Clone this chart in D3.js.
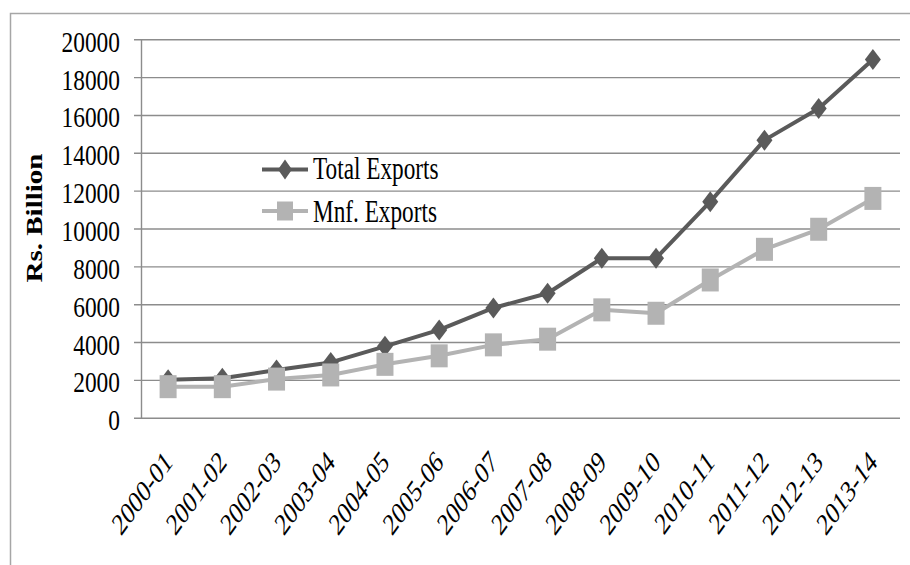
<!DOCTYPE html>
<html>
<head>
<meta charset="utf-8">
<script src="https://cdn.jsdelivr.net/npm/d3@7/dist/d3.min.js"></script>
<style>
  html, body { margin: 0; padding: 0; background: #ffffff; }
  svg { display: block; }
  text { font-family: "Liberation Serif", "Times New Roman", serif; fill: #000; }
</style>
</head>
<body>
<svg id="chart" width="910" height="565"></svg>
<script>
// Financial years on the category axis
const years = ["2000-01", "2001-02", "2002-03", "2003-04", "2004-05", "2005-06", "2006-07",
               "2007-08", "2008-09", "2009-10", "2010-11", "2011-12", "2012-13", "2013-14"];
// Exports, Rs. Billion
const totalExports = [2000, 2080, 2520, 2920, 3770, 4640, 5800, 6580, 8430, 8430, 11420, 14670, 16340, 18930];
const mnfExports   = [1640, 1640, 2040, 2260, 2820, 3270, 3850, 4150, 5700, 5520, 7280, 8900, 9960, 11590];
// Value axis ticks
const yTicks = [0, 2000, 4000, 6000, 8000, 10000, 12000, 14000, 16000, 18000, 20000];

const seriesNames = ["Total Exports", "Mnf. Exports"];

const svg = d3.select("#chart");

// plot area bounds
const plotLeft = 141, plotRight = 900, plotTop = 39.3, plotBottom = 417.7;
const gridColor = "#8c8c8c";
const darkColor = "#5a5a5a";
const lightColor = "#b3b3b3";

// outer chart frame (right and bottom edges fall outside the view)
svg.append("rect")
  .attr("x", 10.5).attr("y", 13.5)
  .attr("width", 920).attr("height", 570)
  .attr("fill", "none").attr("stroke", "#a6a6a6").attr("stroke-width", 1.5);

const x = d3.scalePoint().domain(years).range([plotLeft, plotRight]).padding(0.5);
const y = d3.scaleLinear().domain([0, 20000]).range([plotBottom, plotTop]);

// horizontal gridlines (with short outer tick marks)
const grid = svg.append("g")
  .attr("transform", `translate(${plotRight},0)`)
  .call(d3.axisLeft(y).tickValues(yTicks).tickSize(plotRight - plotLeft + 7).tickFormat(""));
grid.select(".domain").remove();
grid.selectAll(".tick line").attr("stroke", gridColor).attr("stroke-width", 1.4);

// value axis
const yAxis = svg.append("g")
  .attr("transform", `translate(${plotLeft},0)`)
  .call(d3.axisLeft(y).tickValues(yTicks).tickSize(0).tickFormat(d3.format("d")));
yAxis.select(".domain").attr("stroke", gridColor).attr("stroke-width", 1.4);
yAxis.selectAll(".tick text")
  .attr("x", null).attr("dy", null)
  .attr("text-anchor", "end")
  .attr("font-size", 30)
  .attr("transform", "translate(-21,12) scale(0.78,1)");

// category axis labels, slanted
const xAxis = svg.append("g")
  .attr("transform", `translate(0,${plotBottom})`)
  .call(d3.axisBottom(x).tickSize(0));
xAxis.select(".domain").remove();
xAxis.selectAll(".tick text")
  .attr("y", null).attr("dy", null)
  .attr("text-anchor", "end")
  .attr("font-size", 31)
  .attr("transform", "translate(5,46) scale(0.72,1) rotate(-45)");

// y-axis title
svg.append("text")
  .attr("transform", "translate(42,218) scale(0.8,1) rotate(-90)")
  .attr("text-anchor", "middle")
  .attr("font-size", 29)
  .attr("font-weight", "bold")
  .text("Rs. Billion");

const line = d3.line().x((d, i) => x(years[i])).y(d => y(d));

function diamond(g, cx, cy, hw, hh) {
  g.append("path")
    .attr("d", `M${cx},${cy - hh}L${cx + hw},${cy}L${cx},${cy + hh}L${cx - hw},${cy}Z`)
    .attr("fill", darkColor);
}

// Total exports series
svg.append("path")
  .datum(totalExports)
  .attr("d", line)
  .attr("fill", "none").attr("stroke", darkColor).attr("stroke-width", 4)
  .attr("stroke-linejoin", "round");
const totalMarks = svg.append("g");
totalExports.forEach((v, i) => diamond(totalMarks, x(years[i]), y(v), 8, 10.5));

// Manufactured exports series
svg.append("path")
  .datum(mnfExports)
  .attr("d", line)
  .attr("fill", "none").attr("stroke", lightColor).attr("stroke-width", 4)
  .attr("stroke-linejoin", "round");
svg.append("g").selectAll("rect")
  .data(mnfExports)
  .join("rect")
  .attr("x", (d, i) => x(years[i]) - 8.5)
  .attr("y", d => y(d) - 11.5)
  .attr("width", 17).attr("height", 23)
  .attr("fill", lightColor);

// legend
const legend = svg.append("g");
legend.append("line").attr("x1", 262).attr("x2", 308).attr("y1", 169.5).attr("y2", 169.5)
  .attr("stroke", darkColor).attr("stroke-width", 4);
diamond(legend, 285, 169.5, 7, 10);
legend.append("text")
  .attr("transform", "translate(313,178.5) scale(0.75,1)")
  .attr("font-size", 31)
  .text(seriesNames[0]);

legend.append("line").attr("x1", 262).attr("x2", 308).attr("y1", 211).attr("y2", 211)
  .attr("stroke", lightColor).attr("stroke-width", 4);
legend.append("rect").attr("x", 277).attr("y", 201.5).attr("width", 16).attr("height", 19)
  .attr("fill", lightColor);
legend.append("text")
  .attr("transform", "translate(313,221.5) scale(0.75,1)")
  .attr("font-size", 31)
  .text(seriesNames[1]);
</script>
</body>
</html>
